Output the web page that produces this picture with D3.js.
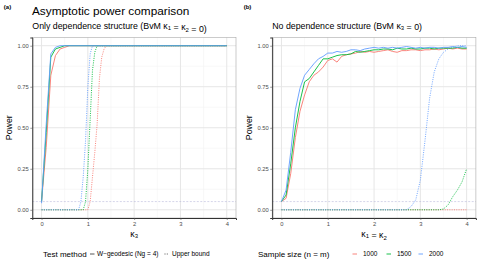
<!DOCTYPE html>
<html>
<head>
<meta charset="utf-8">
<script src="https://cdn.jsdelivr.net/npm/d3@7"></script>
<style>
	body { margin: 0; background: #fff; }
	svg { font-family: "Liberation Sans", Arial, sans-serif; }
</style>
</head>
<body>
<div id="chart"></div>
<script>
// ---- data ----
const xTicks = [0, 1, 2, 3, 4];
const yTicks = [0, 0.25, 0.5, 0.75, 1];
const sampleSizes = ["1000", "1500", "2000"];
const methods = ["W\u2212geodesic (Ng = 4)", "Upper bound"];
const sizeLevel = 0.05;

// panel (a): power vs kappa3, [kappa3, power]
const aGeo1000 = [[0, 0.05], [0.1, 0.38], [0.2, 0.82], [0.3, 0.94], [0.4, 0.98], [0.5, 0.99], [0.6, 1], [4, 1]];
const aGeo1500 = [[0, 0.05], [0.1, 0.47], [0.2, 0.93], [0.3, 0.98], [0.4, 0.99], [0.5, 1], [4, 1]];
const aGeo2000 = [[0, 0.04], [0.1, 0.52], [0.2, 0.95], [0.3, 0.99], [0.4, 1], [4, 1]];
const aBound1000 = [[0, 0], [1.0, 0], [1.05, 0.05], [1.1, 0.2], [1.15, 0.35], [1.2, 0.52], [1.25, 0.8], [1.3, 0.93], [1.35, 0.98], [1.4, 1], [4, 1]];
const aBound1500 = [[0, 0], [0.9, 0], [0.95, 0.05], [1.0, 0.25], [1.05, 0.55], [1.1, 0.85], [1.15, 0.96], [1.2, 1], [4, 1]];
const aBound2000 = [[0, 0], [0.8, 0], [0.85, 0.05], [0.9, 0.2], [0.95, 0.42], [1.0, 0.75], [1.05, 0.95], [1.1, 1], [4, 1]];

// panel (b): power vs kappa1 = kappa2, kappa grid 0..4 by 0.1
const bKappa = [0, 0.1, 0.2, 0.3, 0.4, 0.5, 0.6, 0.7, 0.8, 0.9, 1, 1.1, 1.2, 1.3, 1.4, 1.5, 1.6, 1.7, 1.8, 1.9, 2,
	2.1, 2.2, 2.3, 2.4, 2.5, 2.6, 2.7, 2.8, 2.9, 3, 3.1, 3.2, 3.3, 3.4, 3.5, 3.6, 3.7, 3.8, 3.9, 4];
const bGeo1000 = [0.05, 0.07, 0.22, 0.44, 0.6, 0.7, 0.78, 0.82, 0.84, 0.87, 0.91, 0.92, 0.9, 0.935, 0.945, 0.95, 0.955, 0.965, 0.96, 0.965, 0.96,
	0.965, 0.97, 0.975, 0.965, 0.96, 0.97, 0.97, 0.975, 0.975, 0.97, 0.975, 0.975, 0.98, 0.975, 0.98, 0.985, 0.98, 0.985, 0.98, 0.98];
const bGeo1500 = [0.05, 0.09, 0.28, 0.5, 0.66, 0.78, 0.8, 0.84, 0.88, 0.92, 0.92, 0.93, 0.94, 0.945, 0.945, 0.95, 0.965, 0.96, 0.965, 0.97, 0.975,
	0.975, 0.98, 0.98, 0.975, 0.985, 0.98, 0.98, 0.985, 0.98, 0.98, 0.985, 0.985, 0.98, 0.985, 0.985, 0.985, 0.985, 0.99, 0.985, 0.985];
const bGeo2000 = [0.05, 0.12, 0.35, 0.61, 0.74, 0.82, 0.855, 0.89, 0.92, 0.935, 0.955, 0.955, 0.965, 0.96, 0.965, 0.975, 0.975, 0.97, 0.98, 0.985, 0.99,
	0.985, 0.99, 0.985, 0.99, 0.985, 0.99, 0.995, 0.99, 0.985, 0.99, 0.985, 0.99, 0.99, 0.985, 0.99, 0.99, 0.995, 0.99, 0.995, 0.99];
const bBound1000 = [[0, 0], [4, 0]];
const bBound1500 = [[0, 0], [3.4, 0], [3.5, 0.005], [3.6, 0.03], [3.7, 0.08], [3.8, 0.12], [3.9, 0.17], [4, 0.25]];
const bBound2000 = [[0, 0], [2.7, 0], [2.8, 0.02], [2.9, 0.06], [3.0, 0.18], [3.1, 0.42], [3.2, 0.68], [3.3, 0.84], [3.4, 0.92],
	[3.5, 0.96], [3.6, 0.98], [3.7, 0.99], [3.8, 1], [3.9, 1], [4, 1]];

// ---- layout ----
const w = 480, h = 264;
const colors = d3.scaleOrdinal().domain(sampleSizes).range(["#F8766D", "#00BA38", "#619CFF"]);

const svg = d3.select("#chart").append("svg").attr("width", w).attr("height", h);

const panels = [
	{
		tag: "(a)", x0: 32.3, x1: 236, y0: 37.5, y1: 218,
		subtitle: ["Only dependence structure (BvM ", "\u03ba", "1", " = ", "\u03ba", "2", " = 0)"],
		xTitle: [["\u03ba", "3"]],
		geo: [aGeo1000, aGeo1500, aGeo2000],
		bound: [aBound1000, aBound1500, aBound2000]
	},
	{
		tag: "(b)", x0: 272.2, x1: 475.9, y0: 37.5, y1: 218,
		subtitle: ["No dependence structure (BvM ", "\u03ba", "3", " = 0)"],
		xTitle: [["\u03ba", "1"], [" = "], ["\u03ba", "2"]],
		geo: [bGeo1000, bGeo1500, bGeo2000].map((s) => s.map((v, i) => [bKappa[i], v])),
		bound: [bBound1000, bBound1500, bBound2000]
	}
];

// title of panel (a)
svg.append("text").attr("x", 32).attr("y", 14.5)
	.attr("font-size", 11.8).attr("fill", "#000")
	.text("Asymptotic power comparison");

panels.forEach((p) => {
	const g = svg.append("g");
	const xScale = d3.scaleLinear().domain([-0.2, 4.2]).range([p.x0, p.x1]);
	const yScale = d3.scaleLinear().domain([-0.05, 1.05]).range([p.y1, p.y0]);

	// tag
	svg.append("text").attr("x", p.x0 - 28.5).attr("y", 8.5)
		.attr("font-size", 6).attr("font-weight", "bold").text(p.tag);

	// subtitle with subscripts
	const st = svg.append("text").attr("x", p.x0).attr("y", 28.5).attr("font-size", 8.8);
	p.subtitle.forEach((s) => {
		if (/^\d$/.test(s)) {
			st.append("tspan").attr("font-size", 6).attr("dy", 1.8).text(s);
			st.append("tspan").attr("dy", -1.8).text("");
		} else {
			st.append("tspan").text(s);
		}
	});

	// panel background + grid
	g.append("rect").attr("x", p.x0).attr("y", p.y0)
		.attr("width", p.x1 - p.x0).attr("height", p.y1 - p.y0).attr("fill", "#fff");

	const xMinor = [0.5, 1.5, 2.5, 3.5];
	const yMinor = [0.125, 0.375, 0.625, 0.875];
	g.selectAll(".xminor").data(xMinor).join("line")
		.attr("x1", (d) => xScale(d)).attr("x2", (d) => xScale(d))
		.attr("y1", p.y0).attr("y2", p.y1).attr("stroke", "#f3f3f3").attr("stroke-width", 0.6);
	g.selectAll(".yminor").data(yMinor).join("line")
		.attr("y1", (d) => yScale(d)).attr("y2", (d) => yScale(d))
		.attr("x1", p.x0).attr("x2", p.x1).attr("stroke", "#f3f3f3").attr("stroke-width", 0.6);
	g.selectAll(".xmajor").data(xTicks).join("line")
		.attr("x1", (d) => xScale(d)).attr("x2", (d) => xScale(d))
		.attr("y1", p.y0).attr("y2", p.y1).attr("stroke", "#e6e6e6").attr("stroke-width", 1);
	g.selectAll(".ymajor").data(yTicks).join("line")
		.attr("y1", (d) => yScale(d)).attr("y2", (d) => yScale(d))
		.attr("x1", p.x0).attr("x2", p.x1).attr("stroke", "#e6e6e6").attr("stroke-width", 1);

	// nominal level
	g.append("line")
		.attr("x1", p.x0).attr("x2", p.x1)
		.attr("y1", yScale(sizeLevel)).attr("y2", yScale(sizeLevel))
		.attr("stroke", "#b8b8dc").attr("stroke-width", 0.6).attr("stroke-dasharray", "2,1.5");

	const line = d3.line().x((d) => xScale(d[0])).y((d) => yScale(d[1]));

	p.bound.forEach((s, i) => {
		g.append("path").datum(s).attr("d", line)
			.attr("fill", "none").attr("stroke", colors(sampleSizes[i]))
			.attr("stroke-width", 0.9).attr("stroke-dasharray", "1,1.3");
	});
	p.geo.forEach((s, i) => {
		g.append("path").datum(s).attr("d", line)
			.attr("fill", "none").attr("stroke", colors(sampleSizes[i]))
			.attr("stroke-width", 0.9).attr("stroke-linejoin", "round");
	});

	// border
	g.append("rect").attr("x", p.x0).attr("y", p.y0)
		.attr("width", p.x1 - p.x0).attr("height", p.y1 - p.y0)
		.attr("fill", "none").attr("stroke", "#a8a8a8").attr("stroke-width", 0.6);

	// axes
	const xAxis = d3.axisBottom(xScale).tickValues(xTicks).tickSize(2).tickPadding(1.5).tickFormat(d3.format("d"));
	const xAxisG = g.append("g").attr("transform", `translate(0, ${p.y1})`).call(xAxis);
	const yAxis = d3.axisLeft(yScale).tickValues(yTicks).tickSize(2).tickPadding(1.5).tickFormat(d3.format(".2f"));
	const yAxisG = g.append("g").attr("transform", `translate(${p.x0}, 0)`).call(yAxis);
	[xAxisG, yAxisG].forEach((a) => {
		a.select(".domain").attr("stroke", "#333").attr("stroke-width", 1);
		a.selectAll(".tick line").attr("stroke", "#555").attr("stroke-width", 0.6);
		a.selectAll(".tick text").attr("fill", "#4d4d4d").attr("font-size", 5.8)
			.attr("font-family", "Liberation Sans, Arial, sans-serif");
	});

	// axis titles
	svg.append("text")
		.attr("transform", `translate(${p.x0 - 20}, ${(p.y0 + p.y1) / 2}) rotate(-90)`)
		.attr("text-anchor", "middle").attr("font-size", 8.8).text("Power");

	const xt = svg.append("text").attr("x", (p.x0 + p.x1) / 2).attr("y", 236.5)
		.attr("text-anchor", "middle").attr("font-size", 8.8);
	p.xTitle.forEach((part) => {
		xt.append("tspan").text(part[0]);
		if (part[1]) {
			xt.append("tspan").attr("font-size", 6).attr("dy", 1.8).text(part[1]);
			xt.append("tspan").attr("dy", -1.8).text("");
		}
	});
});

// ---- legends ----
const legY = 254;
const leg1 = svg.append("g");
leg1.append("text").attr("x", 43).attr("y", legY + 2.8).attr("font-size", 8).text("Test method");
const methodKeys = [{ x: 90, dash: null, label: methods[0], tx: 97 }, { x: 164.5, dash: "1,1.3", label: methods[1], tx: 172 }];
methodKeys.forEach((k) => {
	leg1.append("line").attr("x1", k.x).attr("x2", k.x + 4.5).attr("y1", legY).attr("y2", legY)
		.attr("stroke", "#444").attr("stroke-width", 0.9).attr("stroke-dasharray", k.dash);
	leg1.append("text").attr("x", k.tx).attr("y", legY + 2.2).attr("font-size", 6.5).text(k.label);
});

const leg2 = svg.append("g");
leg2.append("text").attr("x", 258).attr("y", legY + 2.8).attr("font-size", 8).text("Sample size (n = m)");
const sizeX = [352.5, 386.5, 418.5];
sampleSizes.forEach((s, i) => {
	leg2.append("line").attr("x1", sizeX[i]).attr("x2", sizeX[i] + 4.5).attr("y1", legY).attr("y2", legY)
		.attr("stroke", colors(s)).attr("stroke-width", 0.9);
	leg2.append("text").attr("x", sizeX[i] + 10.5).attr("y", legY + 2.2).attr("font-size", 6.5).text(s);
});
</script>
</body>
</html>
